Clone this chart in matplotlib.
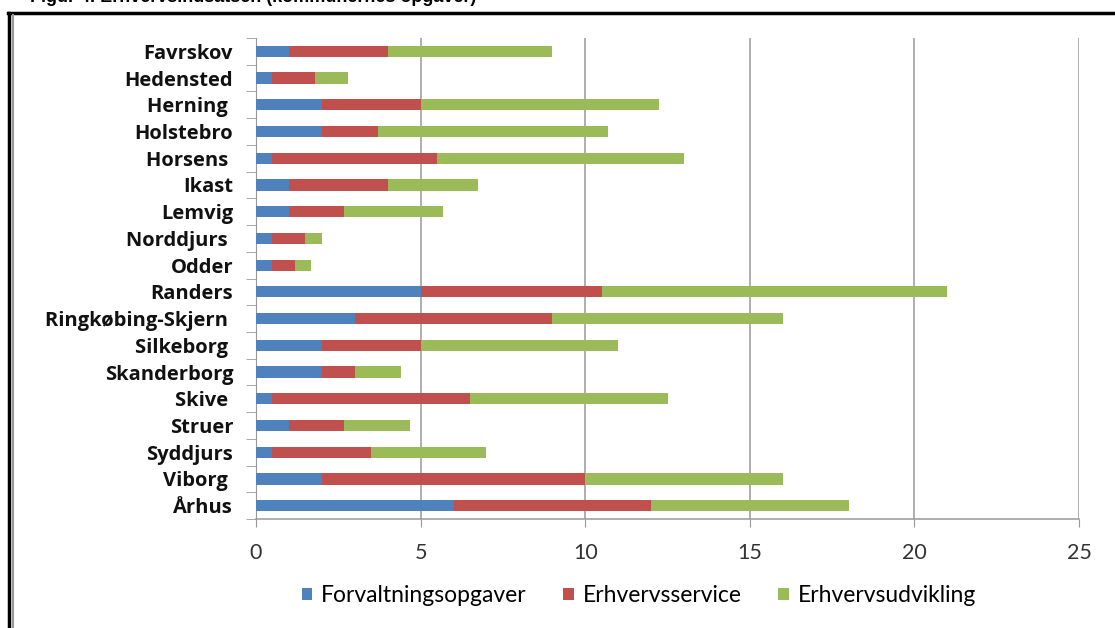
import numpy as np
import matplotlib
matplotlib.use('Agg')
import matplotlib.pyplot as plt
from matplotlib.lines import Line2D

kommuner = ['Favrskov', 'Hedensted', 'Herning ', 'Holstebro', 'Horsens ', 'Ikast',
            'Lemvig', 'Norddjurs ', 'Odder', 'Randers', 'Ringkøbing-Skjern ',
            'Silkeborg ', 'Skanderborg', 'Skive ', 'Struer', 'Syddjurs', 'Viborg ', 'Århus']
forvaltning = [1, 0.5, 2, 2, 0.5, 1, 1, 0.5, 0.5, 5, 3, 2, 2, 0.5, 1, 0.5, 2, 6]
service = [3, 1.3, 3, 1.7, 5, 3, 1.67, 1, 0.67, 5.5, 6, 3, 1, 6, 1.67, 3, 8, 6]
udvikling = [5, 1, 7.25, 7, 7.5, 2.75, 3, 0.5, 0.5, 10.5, 7, 6, 1.4, 6, 2, 3.5, 6, 6]
serier = ['Forvaltningsopgaver', 'Erhvervsservice', 'Erhvervsudvikling']
farver = ['#4F81BD', '#C0504D', '#9BBB59']
xticks = [0, 5, 10, 15, 20, 25]

fig = plt.figure(figsize=(11.15, 6.28), dpi=100)
ax = fig.add_axes([256/1115, 1-519/628, (1079-256)/1115, (519-38)/628])

y = np.arange(len(kommuner))
left = np.zeros(len(kommuner))
for vals, navn, farve in zip([forvaltning, service, udvikling], serier, farver):
    ax.barh(y, vals, left=left, height=0.42, color=farve, label=navn, zorder=3)
    left = left + np.array(vals)

ax.set_xlim(0, 25)
ax.set_ylim(len(kommuner) - 0.5, -0.5)
ax.set_xticks(xticks)
ax.set_xticklabels([str(t) for t in xticks], fontsize=15.5, color='#333333', family='Lato')
ax.set_yticks(y)
ax.set_yticklabels(kommuner, fontsize=14.5, fontweight='bold', family='Open Sans', color='#111111')
ax.set_yticks(np.arange(len(kommuner) + 1) - 0.5, minor=True)
ax.tick_params(axis='y', which='major', length=0, pad=16.5)
ax.tick_params(axis='y', which='minor', length=7, color='#999999', direction='out')
ax.tick_params(axis='x', length=6, color='#999999', direction='out', pad=11)
ax.grid(axis='x', color='#999999', linewidth=1.1, zorder=0)
for s in ['top', 'right']:
    ax.spines[s].set_visible(False)
ax.spines['left'].set_color('#999999')
ax.spines['bottom'].set_color('#999999')
ax.spines['bottom'].set_linewidth(1.1)

leg = fig.legend(loc='center', bbox_to_anchor=(0.573, 0.051), ncol=3, frameon=False,
                 prop={'family': 'Lato', 'size': 16.5}, handlelength=0.45, handleheight=0.45,
                 columnspacing=1.6, handletextpad=0.4)

# ramme og afskaaret overskrift
fig.add_artist(Line2D([8/1115, 1], [1-13/628, 1-13/628], color='black', linewidth=2.5))
fig.add_artist(Line2D([9/1115, 9/1115], [0, 1-13/628], color='black', linewidth=2.5))
fig.add_artist(Line2D([12.5/1115, 12.5/1115], [0, 1-15/628], color='#999999', linewidth=1.5))
fig.text(30/1115, 1-2/628, 'Figur 4. Erhvervsindsatsen (kommunernes opgaver)', fontsize=13,
         fontweight='bold', family='Liberation Sans', va='baseline', ha='left')

fig.savefig('out.png', dpi=100)
